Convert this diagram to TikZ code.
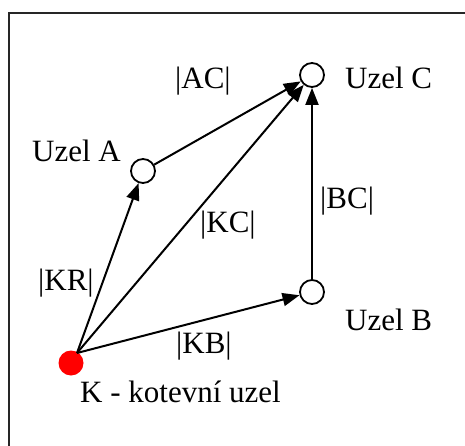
\documentclass[tikz,border=0pt]{standalone}
\usepackage{fontspec}
\setmainfont{Liberation Serif}
\usetikzlibrary{arrows.meta}
\begin{document}
\begin{tikzpicture}[x=1pt,y=-1pt,
  uzel/.style={circle, draw, line width=1.8pt, fill=white, minimum size=24pt, inner sep=0pt},
  kotva/.style={circle, fill=red, minimum size=25pt, inner sep=0pt},
  hrana/.style={line width=2pt, -{Triangle[length=17pt,width=13pt]}},
  popis/.style={anchor=base west, inner sep=0pt, font=\fontsize{31}{36}\selectfont}]
\useasboundingbox (0,0) rectangle (465,446);
\clip (0,0) rectangle (465,446);
% outer frame (runs past the right and bottom edges)
\draw[line width=2pt, black!85] (9,13) rectangle (480,460);

% nodes
\node[kotva] (K) at (71,363) {};
\coordinate (k0) at (77,353);
\node[uzel] (A) at (143,171) {};
\node[uzel] (B) at (312,292) {};
\node[uzel] (C) at (312,75) {};

% edges
\draw[hrana] (k0) -- (A);
\draw[hrana] (k0) -- (C);
\draw[hrana] (k0) -- (B);
\draw[hrana] (A) -- (C);
\draw[hrana] (B) -- (C);

% labels
\node[popis] (lAC) at (175,89) {|AC|};
\node[popis] (lC)  at (345,89) {Uzel C};
\node[popis] (lA)  at (32,162) {Uzel A};
\node[popis] (lKC) at (200,233) {|KC|};
\node[popis] (lBC) at (320,208) {|BC|};
\node[popis] (lKR) at (38,290) {|KR|};
\node[popis] (lB)  at (345,330) {Uzel B};
\node[popis] (lKB) at (176,353) {|KB|};
\node[popis] (lK)  at (80,402) {K - kotevní uzel};
\end{tikzpicture}
\end{document}
